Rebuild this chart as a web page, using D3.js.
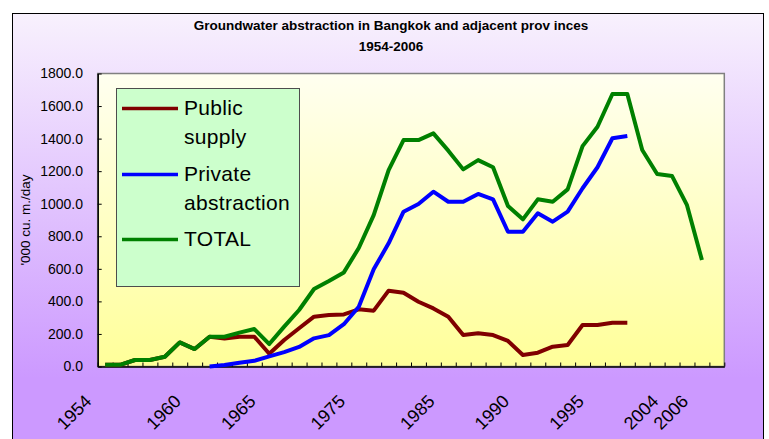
<!DOCTYPE html>
<html>
<head>
<meta charset="utf-8">
<script src="https://cdn.jsdelivr.net/npm/d3@7"></script>
<style>
  body { margin: 0; background: #ffffff; }
  svg { display: block; font-family: "Liberation Sans", Arial, sans-serif; }
</style>
</head>
<body>
<div id="chart"></div>
<script>
// category slots on the x axis (42 slots, only some carry a year label)
var categories = d3.range(42);
var tickLabels = [
  [0, "1954"], [6, "1960"], [11, "1965"], [17, "1975"], [23, "1985"],
  [28, "1990"], [33, "1995"], [38, "2004"], [40, "2006"]
];

// '000 cu. m./day, null where the series has no value
var publicSupply = [10, 10, 40, 40, 60, 148, 107, 183, 172, 183, 183, 78, 163, 235, 306, 316, 320, 351, 343, 466,
  453, 398, 357, 306, 193, 204, 193, 157, 71, 85, 122, 132, 255, 255, 269, 269, null, null, null, null, null, null];
var privateAbstraction = [null, null, null, null, null, null, null, 0, 9, 23, 35, 62, 88, 120, 173, 193, 260, 367, 597, 757,
  951, 998, 1074, 1012, 1012, 1060, 1027, 828, 828, 941, 890, 951, 1095, 1224, 1402, 1416, null, null, null, null, null, null];
var total = [10, 10, 40, 40, 60, 148, 107, 183, 183, 208, 230, 138, 245, 347, 476, 525, 578, 728, 930, 1207,
  1391, 1391, 1432, 1326, 1211, 1268, 1224, 986, 904, 1027, 1012, 1088, 1354, 1473, 1674, 1674, 1330, 1183, 1170, 991, 654, null];

var yTicks = [0, 200, 400, 600, 800, 1000, 1200, 1400, 1600, 1800];

var seriesList = [
  { name: ["Public", "supply"], values: publicSupply, color: "#800000" },
  { name: ["Private", "abstraction"], values: privateAbstraction, color: "#0000ff" },
  { name: ["TOTAL"], values: total, color: "#008000" }
];

var W = 769, H = 439;
var plot = { left: 97.7, top: 73.5, right: 724.3, bottom: 366.5 };

var svg = d3.select("#chart")
  .append("svg")
  .attr("width", W)
  .attr("height", H);

var defs = svg.append("defs");
var bgGrad = defs.append("linearGradient")
  .attr("id", "bgGrad")
  .attr("x1", 0).attr("y1", 0).attr("x2", 0).attr("y2", 1);
bgGrad.append("stop").attr("offset", "0%").attr("stop-color", "#f8f1fd");
bgGrad.append("stop").attr("offset", "82%").attr("stop-color", "#cc99ff");
bgGrad.append("stop").attr("offset", "100%").attr("stop-color", "#cc99ff");

var plotGrad = defs.append("linearGradient")
  .attr("id", "plotGrad")
  .attr("x1", 0).attr("y1", 0).attr("x2", 0).attr("y2", 1);
plotGrad.append("stop").attr("offset", "0%").attr("stop-color", "#fffff0");
plotGrad.append("stop").attr("offset", "100%").attr("stop-color", "#ffff99");

// chart area
svg.append("rect")
  .attr("x", 12.5)
  .attr("y", 13.5)
  .attr("width", 751)
  .attr("height", 445)
  .attr("fill", "url(#bgGrad)")
  .attr("stroke", "#000000")
  .attr("stroke-width", 1);

// title
svg.append("text")
  .attr("x", 391)
  .attr("y", 30)
  .attr("text-anchor", "middle")
  .attr("font-size", "13.5px")
  .attr("font-weight", "bold")
  .text("Groundwater abstraction in Bangkok and adjacent prov inces");
svg.append("text")
  .attr("x", 391)
  .attr("y", 51)
  .attr("text-anchor", "middle")
  .attr("font-size", "13.5px")
  .attr("font-weight", "bold")
  .text("1954-2006");

// plot area
svg.append("rect")
  .attr("x", plot.left)
  .attr("y", plot.top)
  .attr("width", plot.right - plot.left)
  .attr("height", plot.bottom - plot.top)
  .attr("fill", "url(#plotGrad)")
  .attr("stroke", "#808080")
  .attr("stroke-width", 1.5);

var x = d3.scaleBand()
  .domain(categories)
  .range([plot.left, plot.right])
  .padding(0);

var xEdges = d3.scaleLinear()
  .domain([0, categories.length])
  .range([plot.left, plot.right]);

var y = d3.scaleLinear()
  .domain([0, 1800])
  .range([plot.bottom, plot.top]);

// y axis
var yAxis = svg.append("g")
  .attr("transform", "translate(" + plot.left + ",0)")
  .call(d3.axisLeft(y)
    .tickValues(yTicks)
    .tickSizeInner(-4)
    .tickSizeOuter(0)
    .tickPadding(14.7)
    .tickFormat(d3.format(".1f")));
yAxis.selectAll("text")
  .attr("font-size", "14px")
  .attr("font-family", "Liberation Sans, Arial, sans-serif")
  .attr("fill", "#000");
yAxis.select(".domain").attr("stroke", "#000").attr("stroke-width", 1.5);
yAxis.selectAll(".tick line").attr("stroke", "#000");

// x axis: tick marks at category boundaries
var xAxis = svg.append("g")
  .attr("transform", "translate(0," + plot.bottom + ")")
  .call(d3.axisBottom(xEdges)
    .tickValues(d3.range(categories.length + 1))
    .tickSizeInner(-4)
    .tickSizeOuter(0)
    .tickFormat(""));
xAxis.select(".domain").attr("stroke", "#000").attr("stroke-width", 1.5);
xAxis.selectAll(".tick line").attr("stroke", "#000");

// x labels, rotated
var labelMap = new Map(tickLabels);
var xLabels = svg.append("g")
  .attr("transform", "translate(0," + plot.bottom + ")")
  .call(d3.axisBottom(x)
    .tickValues(tickLabels.map(function(d) { return d[0]; }))
    .tickSize(0)
    .tickFormat(function(d) { return labelMap.get(d); }));
xLabels.select(".domain").remove();
xLabels.selectAll("text")
  .attr("font-size", "18px")
  .attr("font-family", "Liberation Sans, Arial, sans-serif")
  .attr("fill", "#000")
  .attr("text-anchor", "end")
  .attr("dy", null)
  .attr("y", 0)
  .attr("transform", "translate(-12.5,36) rotate(-45)");

// y axis title
svg.append("text")
  .attr("transform", "translate(30,220) rotate(-90)")
  .attr("text-anchor", "middle")
  .attr("font-size", "13.5px")
  .text("'000 cu. m./day");

// lines
var line = d3.line()
  .defined(function(d) { return d != null; })
  .x(function(d, i) { return x(i) + x.bandwidth() / 2; })
  .y(function(d) { return y(d); });

svg.selectAll("path.series")
  .data(seriesList)
  .enter()
  .append("path")
  .attr("class", "series")
  .attr("fill", "none")
  .attr("stroke", function(d) { return d.color; })
  .attr("stroke-width", 4)
  .attr("stroke-linejoin", "round")
  .attr("d", function(d) { return line(d.values); });

// legend
var legend = svg.append("g");
legend.append("rect")
  .attr("x", 116.5)
  .attr("y", 88.5)
  .attr("width", 183)
  .attr("height", 198)
  .attr("fill", "#ccffcc")
  .attr("stroke", "#4d4d4d")
  .attr("stroke-width", 1);

var legendY = [108.5, 174.5, 239.5];
var items = legend.selectAll("g.item")
  .data(seriesList)
  .enter()
  .append("g")
  .attr("class", "item")
  .attr("transform", function(d, i) { return "translate(0," + legendY[i] + ")"; });

items.append("line")
  .attr("x1", 122)
  .attr("x2", 178)
  .attr("stroke", function(d) { return d.color; })
  .attr("stroke-width", 3.5);

items.append("text")
  .attr("x", 184)
  .attr("font-size", "21px")
  .attr("letter-spacing", "0.3px")
  .selectAll("tspan")
  .data(function(d) { return d.name; })
  .enter()
  .append("tspan")
  .attr("x", 184)
  .attr("y", function(d, i) { return 6.5 + i * 29; })
  .text(function(d) { return d; });
</script>
</body>
</html>
